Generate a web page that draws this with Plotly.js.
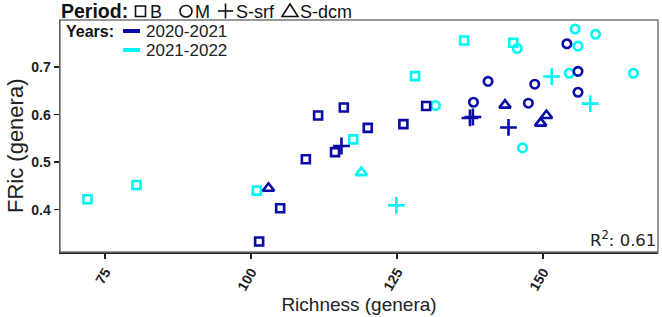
<!DOCTYPE html>
<html><head><meta charset="utf-8">
<script src="https://cdn.plot.ly/plotly-3.0.1.min.js"></script>
<style>html,body{margin:0;padding:0;background:#fff}#c{width:662px;height:317px}</style>
</head><body><div id="c"></div>
<script>
// 2020-2021 (dark blue)
const b1_B_x = [101.4, 105.0, 109.4, 111.5, 114.4, 115.9, 120.0, 126.1, 130.0];
const b1_B_y = [0.333, 0.403, 0.506, 0.598, 0.521, 0.615, 0.572, 0.580, 0.618];
const b1_M_x = [138.1, 140.6, 147.5, 148.6, 154.1, 156.0, 156.0];
const b1_M_y = [0.626, 0.670, 0.624, 0.664, 0.749, 0.691, 0.647];
const b1_S_x = [115.5, 137.5, 138.0, 144.1];
const b1_S_y = [0.534, 0.593, 0.595, 0.573];
const b1_D_x = [103.0, 143.5, 149.6, 150.6];
const b1_D_y = [0.445, 0.620, 0.582, 0.598];
// 2021-2022 (cyan)
const c2_B_x = [72.0, 80.4, 101.0, 117.5, 128.1, 136.5, 144.9];
const c2_B_y = [0.422, 0.452, 0.440, 0.548, 0.681, 0.756, 0.751];
const c2_M_x = [131.6, 145.6, 146.5, 154.5, 155.5, 156.0, 159.0, 165.5];
const c2_M_y = [0.619, 0.739, 0.530, 0.687, 0.780, 0.744, 0.769, 0.687];
const c2_S_x = [124.9, 151.5, 158.1];
const c2_S_y = [0.409, 0.680, 0.623];
const c2_D_x = [118.9];
const c2_D_y = [0.478];

const xTicks = [75, 100, 125, 150];
const yTicks = [0.4, 0.5, 0.6, 0.7];
const yearLabels = ["2020-2021", "2021-2022"];
const periodLabels = ["B", "M", "S-srf", "S-dcm"];
const r2 = 0.61;

const BLUE = "#0a0aa8", CYAN = "#00f5f5";
const sym = {B:{s:"square-open",z:8}, M:{s:"circle-open",z:8.5}, S:{s:"cross-thin-open",z:12}, D:{s:"triangle-up-open",z:10}};
function tr(x,y,col,k){
  return {x:x,y:y,type:"scatter",mode:"markers",showlegend:false,hoverinfo:"skip",
    marker:{symbol:sym[k].s,size:sym[k].z,color:col,line:{color:col,width:2.6}}};
}
const data = [
  tr(c2_B_x,c2_B_y,CYAN,"B"), tr(c2_M_x,c2_M_y,CYAN,"M"), tr(c2_S_x,c2_S_y,CYAN,"S"), tr(c2_D_x,c2_D_y,CYAN,"D"),
  tr(b1_B_x,b1_B_y,BLUE,"B"), tr(b1_M_x,b1_M_y,BLUE,"M"), tr(b1_S_x,b1_S_y,BLUE,"S"), tr(b1_D_x,b1_D_y,BLUE,"D")
];
const F = "Liberation Sans, Arial, sans-serif";
const PW = 598, PH = 232;
const px = v => (v-60)/PW;           // page x -> paper
const py = v => 1 - (v-20)/PH;       // page y -> paper
const ann = [
  {x:px(60),y:py(11),xanchor:"left",text:"<b>Period:</b>",font:{family:F,size:19.5,color:"#111"}}
];
const labelX = [149, 194, 235, 299];
for (let i=0;i<periodLabels.length;i++){
  ann.push({x:px(labelX[i]),y:py(11.5),xanchor:"left",text:periodLabels[i],font:{family:F,size:18,color:"#111"}});
}
ann.push({x:px(65),y:py(31),xanchor:"left",text:"<b>Years:</b>",font:{family:F,size:16,color:"#111"}});
ann.push({x:px(145),y:py(31),xanchor:"left",text:yearLabels[0],font:{family:F,size:17,color:"#222"}});
ann.push({x:px(145),y:py(50),xanchor:"left",text:yearLabels[1],font:{family:F,size:17,color:"#222"}});
ann.forEach(a=>{a.xref="paper";a.yref="paper";a.yanchor="middle";a.showarrow=false;a.borderpad=0;});
ann.push({xref:"paper",yref:"paper",x:1,y:0,xanchor:"right",yanchor:"bottom",showarrow:false,
  text:"R<sup>2</sup>: "+r2.toFixed(2),font:{family:"DejaVu Sans, sans-serif",size:16.5,color:"#222"}});
ann.push({xref:"paper",yref:"paper",x:px(15),y:py(146),xanchor:"center",yanchor:"middle",showarrow:false,
  textangle:-90,text:"FRic (genera)",font:{family:F,size:22,color:"#222"}});

const K = "#111", LW = 1.6;
const P = (x0,y0,x1,y1,extra) => Object.assign({xref:"paper",yref:"paper",x0:px(x0),x1:px(x1),y0:py(y0),y1:py(y1),line:{color:K,width:LW}},extra);
const legendIcons = [
  P(135.5,6,145.5,16.5,{type:"rect"}),
  P(180,5.5,192,17,{type:"circle"}),
  P(218,11,233,11,{type:"line"}),
  P(225.5,3.5,225.5,18.5,{type:"line"}),
  {type:"path",xref:"paper",yref:"paper",
   path:`M ${px(282)} ${py(16.5)} L ${px(298)} ${py(16.5)} L ${px(290)} ${py(4)} Z`,line:{color:K,width:LW}}
];

const layout = {
  width:662, height:317, margin:{l:60,r:4,t:20,b:65},
  paper_bgcolor:"#fff", plot_bgcolor:"#fff", showlegend:false,
  font:{family:F,color:"#222"},
  xaxis:{range:[67.3,169.7], tickvals:xTicks, ticktext:xTicks.map(String), tickangle:-60,
    showgrid:false, zeroline:false, showline:true, linecolor:"#222", linewidth:1.5,
    ticks:"outside", ticklen:5, tickwidth:1.5, tickcolor:"#222",
    tickfont:{family:F,size:14,color:"#222",weight:"bold"},
    title:{text:"Richness (genera)", font:{family:F,size:19,color:"#222"}, standoff:4}},
  yaxis:{range:[0.311,0.799], tickvals:yTicks, ticktext:yTicks.map(v=>v.toFixed(1)),
    showgrid:false, zeroline:false, showline:true, linecolor:"#222", linewidth:1.5,
    ticks:"outside", ticklen:5, tickwidth:1.5, tickcolor:"#222",
    tickfont:{family:F,size:14,color:"#222",weight:"bold"}},
  shapes:[
    {type:"rect",xref:"paper",yref:"paper",x0:0,x1:1,y0:0,y1:1,line:{color:"#777",width:1.5}},
    {type:"rect",xref:"paper",yref:"paper",x0:px(123),x1:px(140),y0:py(29),y1:py(33),fillcolor:BLUE,line:{width:0}},
    {type:"rect",xref:"paper",yref:"paper",x0:px(123),x1:px(140),y0:py(48),y1:py(52),fillcolor:CYAN,line:{width:0}}
  ].concat(legendIcons),
  annotations:ann
};
Plotly.newPlot("c",data,layout,{displayModeBar:false,staticPlot:true});
</script></body></html>
